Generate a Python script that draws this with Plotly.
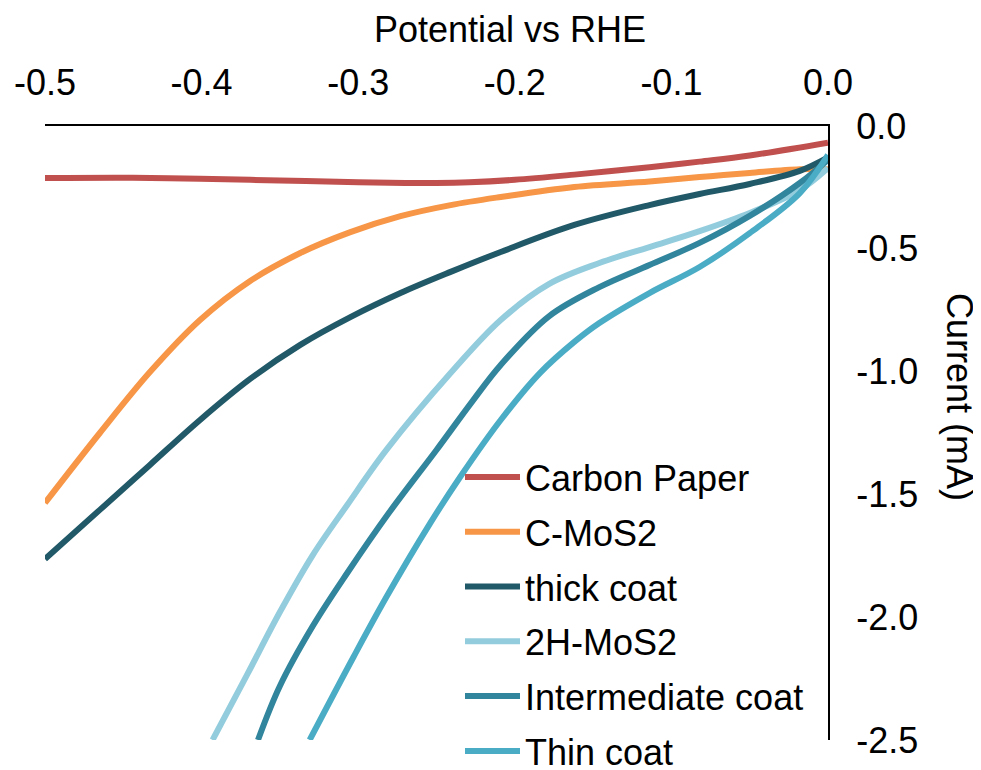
import plotly.graph_objects as go

# ---- data ----
series_names = ["Carbon Paper", "C-MoS2", "thick coat", "2H-MoS2", "Intermediate coat", "Thin coat"]
series_colors = ["#C0504D", "#F79646", "#215968", "#93CDDD", "#31859C", "#4BACC6"]

carbon_x = [-0.5, -0.444, -0.401, -0.35, -0.30, -0.27, -0.25, -0.229, -0.20, -0.162, -0.114, -0.082, -0.05, 0.0]
carbon_y = [-0.212, -0.211, -0.215, -0.222, -0.229, -0.232, -0.232, -0.229, -0.219, -0.198, -0.168, -0.145, -0.120, -0.068]

cmos_x = [-0.5, -0.465, -0.433, -0.401, -0.369, -0.337, -0.305, -0.273, -0.241, -0.209, -0.162, -0.114, -0.082, -0.05, -0.018, 0.0]
cmos_y = [-1.535, -1.250, -1.002, -0.790, -0.631, -0.517, -0.432, -0.367, -0.322, -0.289, -0.248, -0.226, -0.208, -0.191, -0.176, -0.176]

thick_x = [-0.5, -0.465, -0.433, -0.401, -0.369, -0.337, -0.305, -0.273, -0.241, -0.209, -0.162, -0.114, -0.082, -0.05, -0.018, 0.0]
thick_y = [-1.763, -1.563, -1.380, -1.197, -1.030, -0.891, -0.778, -0.680, -0.594, -0.513, -0.403, -0.322, -0.277, -0.236, -0.183, -0.128]

h2_x = [-0.393, -0.371, -0.350, -0.329, -0.307, -0.282, -0.241, -0.209, -0.178, -0.146, -0.114, -0.082, -0.05, -0.018, 0.0]
h2_y = [-2.5, -2.235, -1.979, -1.747, -1.543, -1.319, -1.006, -0.790, -0.643, -0.558, -0.493, -0.428, -0.354, -0.261, -0.171]

inter_x = [-0.364, -0.350, -0.329, -0.307, -0.280, -0.250, -0.227, -0.209, -0.178, -0.146, -0.114, -0.082, -0.05, -0.018, 0.0]
inter_y = [-2.5, -2.280, -2.036, -1.820, -1.572, -1.319, -1.120, -0.973, -0.774, -0.656, -0.566, -0.476, -0.366, -0.232, -0.138]

thin_x = [-0.331, -0.303, -0.282, -0.254, -0.235, -0.209, -0.184, -0.162, -0.146, -0.114, -0.082, -0.05, -0.018, 0.0]
thin_y = [-2.5, -2.162, -1.918, -1.617, -1.430, -1.197, -1.006, -0.879, -0.802, -0.680, -0.574, -0.436, -0.273, -0.118]

x_tick_vals = [-0.5, -0.4, -0.3, -0.2, -0.1, 0.0]
x_tick_text = ["-0.5", "-0.4", "-0.3", "-0.2", "-0.1", "0.0"]
y_tick_vals = [0.0, -0.5, -1.0, -1.5, -2.0, -2.5]
y_tick_text = ["0.0", "-0.5", "-1.0", "-1.5", "-2.0", "-2.5"]

xs = [carbon_x, cmos_x, thick_x, h2_x, inter_x, thin_x]
ys = [carbon_y, cmos_y, thick_y, h2_y, inter_y, thin_y]

FONT = "Liberation Sans, Arial, sans-serif"
fig = go.Figure()
for i, (name, col, x, y) in enumerate(zip(series_names, series_colors, xs, ys)):
    fig.add_trace(go.Scatter(
        x=x, y=y, mode="lines", name=name, legendgroup=f"g{i}",
        line=dict(color=col, width=6, shape="spline", smoothing=1.0),
    ))

# page has an 8px body margin, so the figure is sized/offset to compensate
fig.update_layout(
    width=973, height=762,
    margin=dict(l=37, r=153, t=118, b=30, autoexpand=False),
    paper_bgcolor="white", plot_bgcolor="white",
    font=dict(family=FONT, size=36, color="black"),
    showlegend=True,
    legend=dict(
        x=(460 - 45) / 783, y=(740 - 447) / 614, xanchor="left", yanchor="top",
        bgcolor="rgba(0,0,0,0)", borderwidth=0, tracegroupgap=5, itemwidth=55,
        font=dict(family=FONT, size=36, color="black"),
    ),
    xaxis=dict(
        range=[-0.5, 0.0], side="top", showgrid=False, zeroline=False,
        showline=True, linecolor="black", linewidth=2,
        tickmode="array", tickvals=x_tick_vals, ticktext=x_tick_text,
        ticks="", ticklabelstandoff=15,
        tickfont=dict(family=FONT, size=36, color="black"),
    ),
    yaxis=dict(
        range=[-2.5, 0.0], side="right", showgrid=False, zeroline=False,
        showline=True, linecolor="black", linewidth=2,
        tickmode="array", tickvals=y_tick_vals, ticktext=y_tick_text,
        ticks="", ticklabelstandoff=19,
        tickfont=dict(family=FONT, size=36, color="black"),
    ),
    annotations=[
        dict(text="Potential vs RHE", xref="paper", yref="paper",
             x=(510 - 45) / 783, y=(740 - 30) / 614, xanchor="center", yanchor="middle",
             showarrow=False, font=dict(family=FONT, size=36, color="black")),
        dict(text="Current (mA)", xref="paper", yref="paper",
             x=(960 - 45) / 783, y=(740 - 397) / 614, xanchor="center", yanchor="middle",
             textangle=90, showarrow=False, font=dict(family=FONT, size=36, color="black")),
    ],
)

fig.write_html("out.html")
